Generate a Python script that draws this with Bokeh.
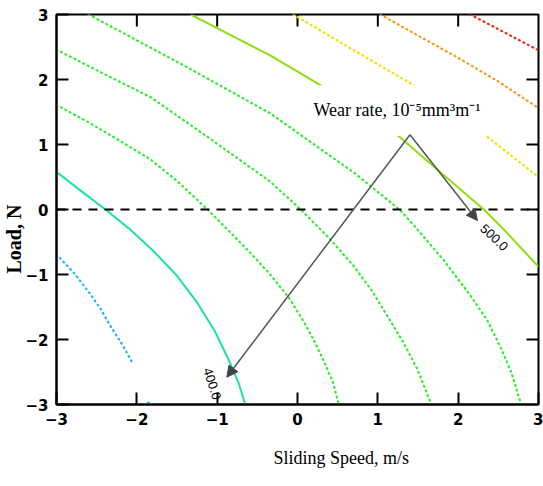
from bokeh.plotting import figure
from bokeh.models import (Range1d, FixedTicker, Span, Arrow, NormalHead,
                          Label, BoxAnnotation, Title)
from bokeh.embed import file_html
from bokeh.resources import INLINE

# ---- data (coded factors) ----
ticks = [-3, -2, -1, 0, 1, 2, 3]
inner_ticks = [-2, -1, 0, 1, 2]

# contour lines of wear rate (x = sliding speed, y = load)
c375_x = [-3.0, -2.78, -2.58, -2.45, -2.33, -2.18, -2.05]
c375_y = [-0.69, -0.98, -1.30, -1.53, -1.79, -2.08, -2.37]
c375b_x = [-1.86, -1.80]
c375b_y = [-2.97, -3.0]

c400_x = [-3.0, -2.7, -2.39, -2.1, -1.8, -1.5, -1.25, -1.03, -0.85, -0.73, -0.65]
c400_y = [0.58, 0.29, 0.0, -0.29, -0.63, -1.02, -1.43, -1.87, -2.33, -2.68, -3.0]

c425_x = [-3.0, -2.6, -2.2, -1.83, -1.5, -1.12, -0.87, -0.6, -0.34, -0.1, 0.08, 0.22, 0.33, 0.44, 0.51]
c425_y = [1.61, 1.34, 1.05, 0.77, 0.44, 0.0, -0.31, -0.65, -1.0, -1.37, -1.73, -2.05, -2.34, -2.65, -2.98]

c450_x = [-3.0, -2.4, -1.83, -1.1, -0.34, 0.04, 0.41, 0.70, 0.92, 1.12, 1.32, 1.49, 1.66]
c450_y = [2.46, 2.08, 1.73, 1.10, 0.43, 0.0, -0.46, -0.87, -1.24, -1.64, -2.05, -2.45, -2.98]

c475_x = [-2.6, -1.42, -0.34, 0.07, 0.70, 1.27, 1.46, 1.82, 2.15, 2.36, 2.52, 2.66, 2.78]
c475_y = [3.0, 2.22, 1.48, 1.12, 0.57, 0.0, -0.26, -0.78, -1.32, -1.70, -2.10, -2.50, -2.98]

c500_x = [-1.33, -0.34, 0.29, 1.24, 1.80, 2.32, 2.57, 3.0]
c500_y = [3.0, 2.37, 1.91, 1.15, 0.55, 0.0, -0.31, -0.88]

c525_x = [-0.05, 0.70, 1.45, 2.36, 3.0]
c525_y = [3.0, 2.45, 1.91, 1.12, 0.50]

c550_x = [1.03, 1.99, 2.5, 3.0]
c550_y = [3.0, 2.34, 1.97, 1.56]

c575_x = [2.15, 3.0]
c575_y = [3.0, 2.45]

contour_labels = ["400.0", "500.0"]
title_text = "Wear rate, 10\u207b\u2075mm\u00b3m\u207b\u00b9"
x_label = "Sliding Speed, m/s"
y_label = "Load, N"

# arrows (apex and tips)
apex = (1.40, 1.15)
tip_right = (2.24, -0.17)
tip_left = (-0.88, -2.58)

# ---- figure ----
p = figure(width=543, height=486, x_range=Range1d(-3, 3), y_range=Range1d(-3, 3),
           output_backend="svg", toolbar_location=None,
           min_border_left=56, min_border_right=5, min_border_top=14, min_border_bottom=80)
p.xgrid.visible = False
p.ygrid.visible = False
p.outline_line_color = "black"
p.outline_line_width = 2
p.background_fill_color = "white"
p.border_fill_color = "white"

for ax in list(p.xaxis) + list(p.yaxis):
    ax.ticker = FixedTicker(ticks=ticks)
    ax.major_tick_in = 12
    ax.major_tick_out = 0
    ax.minor_tick_in = 0
    ax.minor_tick_out = 0
    ax.axis_line_width = 2
    ax.major_tick_line_width = 2
    ax.major_label_text_font = "DejaVu Sans"
    ax.major_label_text_font_style = "bold"
    ax.major_label_text_font_size = "15px"
    ax.major_label_text_color = "black"
    ax.major_label_standoff = 8

# inward ticks on the top and right frame edges
p.ray(x=inner_ticks, y=3, length=12, length_units="screen", angle=-90,
      angle_units="deg", line_color="black", line_width=2)
p.ray(x=3, y=inner_ticks, length=12, length_units="screen", angle=180,
      angle_units="deg", line_color="black", line_width=2)

dotted = dict(line_dash="1 4", line_width=2.2, line_cap="round")
p.line(c375_x, c375_y, line_color="#2ab4f2", **dotted)
p.line(c375b_x, c375b_y, line_color="#2ab4f2", **dotted)
p.line(c400_x, c400_y, line_color="#1ce3a2", line_width=2)
p.line(c425_x, c425_y, line_color="#30ee30", **dotted)
p.line(c450_x, c450_y, line_color="#30ee30", **dotted)
p.line(c475_x, c475_y, line_color="#30ee30", **dotted)
p.line(c500_x, c500_y, line_color="#8ede12", line_width=2)
p.line(c525_x, c525_y, line_color="#f0e200", **dotted)
p.line(c550_x, c550_y, line_color="#ff961c", **dotted)
p.line(c575_x, c575_y, line_color="#ee2a12", **dotted)

p.add_layout(Span(location=0, dimension="width", line_color="black",
                  line_width=2, line_dash="9 7"))

p.add_layout(BoxAnnotation(left=0.19, right=2.40, bottom=1.13, top=1.91,
                           fill_color="white", fill_alpha=1.0, line_color=None))

for tip in (tip_right, tip_left):
    p.add_layout(Arrow(x_start=apex[0], y_start=apex[1], x_end=tip[0], y_end=tip[1],
                       line_color="#555555", line_width=1.5,
                       end=NormalHead(size=11, fill_color="#444444", line_color="#444444",
                                      line_width=1)))

p.add_layout(Label(x=0.199, y=1.53, text=title_text, text_font="Liberation Serif",
                   text_font_size="18px", text_baseline="middle", text_align="left",
                   text_color="black"))

p.add_layout(Label(x=-1.06, y=-2.68, text=contour_labels[0], angle=-1.257,
                   text_font="Liberation Sans", text_font_size="13px",
                   text_align="center", text_baseline="middle", text_color="black"))
p.add_layout(Label(x=2.45, y=-0.43, text=contour_labels[1], angle=-0.75,
                   text_font="Liberation Sans", text_font_size="13px",
                   text_align="center", text_baseline="middle", text_color="black"))

p.add_layout(Title(text=x_label, align="left", offset=217, standoff=37,
                   text_font="Liberation Serif", text_font_size="18px",
                   text_font_style="normal", text_color="black"), "below")
p.add_layout(Title(text=y_label, align="left", offset=131, standoff=-5,
                   text_font="Liberation Serif", text_font_size="20px",
                   text_font_style="bold", text_color="black"), "left")

open("out.html", "w").write(file_html(p, INLINE))
